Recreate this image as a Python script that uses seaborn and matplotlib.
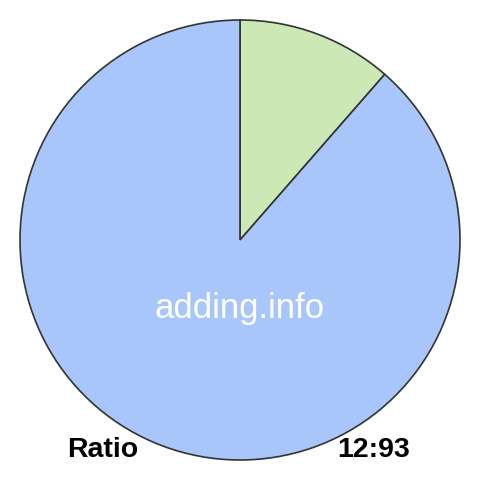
import matplotlib
matplotlib.use("Agg")
import matplotlib.pyplot as plt
import seaborn as sns

labels = ["12", "93"]
values = [12, 93]
colors = ["#cce8b5", "#a8c6fa"]
ratio_label = "Ratio"
ratio_text = "12:93"
watermark = "adding.info"

sns.set_style("white")
plt.rcParams['font.family'] = ['Liberation Sans', 'DejaVu Sans']

fig = plt.figure(figsize=(4.8, 4.8), dpi=100)
ax = fig.add_axes([0, 0, 1, 1])
ax.pie(values, colors=colors, startangle=90, counterclock=False, radius=1,
       wedgeprops={'edgecolor': '#333333', 'linewidth': 1.2})
lim = 240 / 220
ax.set_xlim(-lim, lim)
ax.set_ylim(-lim, lim)
ax.set_aspect('equal')
ax.axis('off')

ax.text(0, -0.31, watermark, color='white', fontsize=25, ha='center', va='center')
ax.text(-0.623, -0.955, ratio_label, color='black', fontsize=20.5, fontweight='bold',
        ha='center', va='center')
ax.text(0.609, -0.955, ratio_text, color='black', fontsize=20.5, fontweight='bold',
        ha='center', va='center')

fig.savefig("out.png", dpi=100)
